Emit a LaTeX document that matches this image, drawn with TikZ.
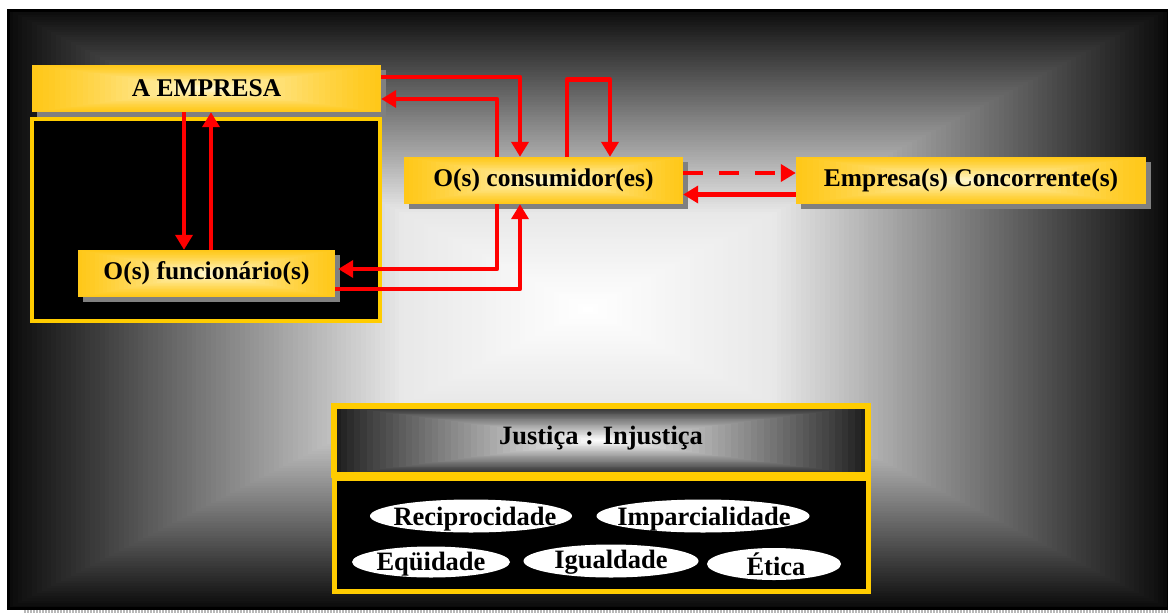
\documentclass[tikz,border=0pt]{standalone}
\usepackage{fontspec}
\setmainfont{Liberation Serif}
\usetikzlibrary{calc,arrows.meta,shapes.geometric,shadows}

\definecolor{goldedge}{RGB}{255,200,24}
\definecolor{goldcore}{RGB}{255,247,205}
\definecolor{rim}{RGB}{255,204,0}
\definecolor{flowred}{RGB}{255,0,0}
\definecolor{castgray}{RGB}{128,128,128}

\newcommand\boxfont{\bfseries\fontsize{25.5}{30}\selectfont}
\newcommand\valuefont{\bfseries\fontsize{26.5}{32}\selectfont}

\tikzset{
  % rectangular gradient running from the edges (#1) to the centre (#2)
  fromcentre/.style n args={4}{%
    path picture={
      \foreach \k in {0,...,#3}{
        \pgfmathsetmacro\fdT{(\k+0.5)/(#3+1)}
        \pgfmathsetmacro\fdP{100*pow(\fdT,#4)}
        \pgfmathsetmacro\fdS{\k/(2*(#3+1))}
        \fill[#2!\fdP!#1]
          ($(path picture bounding box.south west)!\fdS!(path picture bounding box.north east)$)
          rectangle
          ($(path picture bounding box.north east)!\fdS!(path picture bounding box.south west)$);
      }
    }},
  goldbox/.style={rectangle, inner sep=0pt, minimum height=47pt, font=\boxfont,
    drop shadow={shadow xshift=5pt, shadow yshift=-5pt, fill=castgray, opacity=1},
    fromcentre={goldedge}{goldcore}{30}{1.2}},
  panel/.style={rectangle, inner sep=0pt, fill=black, draw=rim},
  pill/.style={ellipse, inner sep=0pt, fill=white},
  word/.style={font=\valuefont, inner sep=0pt, anchor=base},
  flow/.style={draw=flowred, line width=4.8pt, line join=round,
    -{Triangle[length=15pt,width=17pt]}}
}

\begin{document}
\begin{tikzpicture}[x=1pt, y=-1pt]
\useasboundingbox (0,0) rectangle (1168,614);

% backdrop: grey gradient from the frame towards a white centre
\coordinate (bgA) at (8,10);
\coordinate (bgB) at (1168,608);
\foreach \k in {0,...,119}{
  \pgfmathsetmacro\bgT{(\k+0.5)/120}
  \pgfmathsetmacro\bgP{\bgT<0.68 ? 4+128*\bgT : 91+28.1*(\bgT-0.68)}
  \pgfmathsetmacro\bgS{\k/240}
  \fill[white!\bgP!black] ($(bgA)!\bgS!(bgB)$) rectangle ($(bgB)!\bgS!(bgA)$);
}
\draw[black, line width=3pt] (bgA) rectangle (bgB);
\draw[gray!55, line width=3pt, dash pattern=on 2pt off 1pt] (24,611.5) -- (1168,611.5);

% the company block
\node[panel, line width=4pt, minimum width=348pt, minimum height=202pt] (staff) at (206,220) {};
\node[goldbox, minimum width=349pt] (emp) at (206.5,88.5) {A EMPRESA};
\node[goldbox, minimum width=257pt] (fun) at (206.5,273.5) {O(s) funcionário(s)};

% market side
\node[goldbox, minimum width=279pt] (cons) at (543.5,180.5) {O(s) consumidor(es)};
\node[goldbox, minimum width=350pt] (conc) at (971,180.5) {Empresa(s) Concorrente(s)};

% justice panel
\node[rectangle, inner sep=0pt, draw=rim, line width=6pt, minimum width=534pt, minimum height=69pt,
  fromcentre={black!90}{white}{40}{0.9}] (just) at (601,440.5) {};
\node[word, anchor=center] (justt) at (601,438) {Justiça : Injustiça};
\node[panel, line width=5pt, minimum width=534pt, minimum height=113pt] (vals) at (601.5,535) {};

\node[pill, minimum width=202pt, minimum height=33pt] (rec) at (471,516) {};
\node[pill, minimum width=213pt, minimum height=33pt] (imp) at (703,516) {};
\node[pill, minimum width=158pt, minimum height=31pt] (equ) at (431,562) {};
\node[pill, minimum width=175pt, minimum height=33pt] (igu) at (611,561) {};
\node[pill, minimum width=134pt, minimum height=32pt] (eti) at (774,564) {};

\node[word] (rect) at (475,525) {Reciprocidade};
\node[word] (impt) at (704,525) {Imparcialidade};
\node[word] (equt) at (431,570) {Eqüidade};
\node[word] (igut) at (611,568) {Igualdade};
\node[word] (etit) at (776,575) {Ética};

% relations
\draw[flow] ([yshift=11.5pt]emp.east) -| ([xshift=-23.5pt]cons.north);
\draw[flow] ([xshift=-46.5pt]cons.north) |- ([yshift=-10.5pt]emp.east);
\draw[flow] ([xshift=23.5pt]cons.north) -- ++(0,-77) -| ([xshift=66.5pt]cons.north);
\draw[flow] ([xshift=-46.5pt]cons.south) |- ([xshift=3pt,yshift=4.5pt]fun.east);
\draw[flow] ([yshift=-15.5pt]fun.east) -| ([xshift=-23.5pt]cons.south);
\draw[flow] ([xshift=-22.5pt]emp.south) -- ([xshift=-22.5pt]fun.north);
\draw[flow] ([xshift=4.5pt]fun.north) -- ([xshift=4.5pt]emp.south);
\draw[flow, dash pattern=on 20pt off 16pt] ([yshift=7.5pt]cons.east) -- ([yshift=7.5pt]conc.west);
\draw[flow] ([yshift=-14pt]conc.west) -- ([yshift=-14pt]cons.east);
\end{tikzpicture}
\end{document}
